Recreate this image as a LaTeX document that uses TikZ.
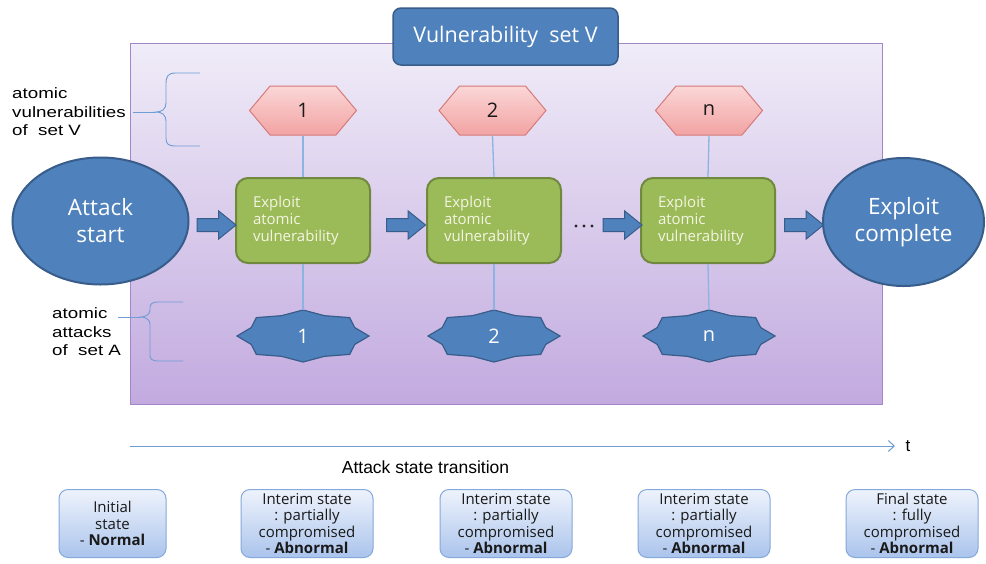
\documentclass[tikz,border=0pt]{standalone}
\usepackage{fontspec}
\setmainfont{Open Sans}
\newfontfamily\widesans[FakeStretch=1.25]{Liberation Sans}
\newfontfamily\plainsans{Liberation Sans}
\usetikzlibrary{shapes.symbols,shapes.arrows,shapes.geometric,arrows.meta}

\definecolor{blueA}{HTML}{4F81BD}
\definecolor{blueB}{HTML}{385D8A}
\definecolor{greenA}{HTML}{9BBB59}
\definecolor{greenB}{HTML}{71893F}
\definecolor{greenT}{HTML}{F4F4E2}
\definecolor{hexTop}{HTML}{FBD6D6}
\definecolor{hexBot}{HTML}{F2A3A3}
\definecolor{hexLine}{HTML}{D77A7A}
\definecolor{panelTop}{HTML}{F0ECF8}
\definecolor{panelBot}{HTML}{C2AADF}
\definecolor{panelLine}{HTML}{A386C8}
\definecolor{linkBlue}{HTML}{8DB3E2}
\definecolor{braceBlue}{HTML}{6F9DD4}
\definecolor{stateTop}{HTML}{EEF3FC}
\definecolor{stateBot}{HTML}{AAC4EC}
\definecolor{stateLine}{HTML}{86A8DA}

% 8-pointed seal around a centre point, with a named text node on top
\newcommand\sealnode[3]{%
  \filldraw[sealstyle] ([shift={(90:66 and 26)}]#2)
    \foreach \i in {1,...,15}{
      -- ([shift={({90+22.5*\i}:{66-10*mod(\i,2)} and {26-4*mod(\i,2)})}]#2)
    } -- cycle;
  \node[atk] (#1) at (#2) {#3};}

\begin{document}
\begin{tikzpicture}[x=1pt,y=-1pt,
  panel/.style={draw=panelLine, line width=1pt, top color=panelTop, bottom color=panelBot,
    minimum width=752, minimum height=361, inner sep=0},
  setbox/.style={draw=blueB, line width=1.5pt, fill=blueA, rounded corners=8pt, text=white,
    font=\fontsize{21.5}{24}\selectfont, minimum width=225, minimum height=57, inner sep=0},
  endpoint/.style={ellipse, draw=blueB, line width=2pt, fill=blueA, text=white, align=center,
    inner sep=0, font=\fontsize{22.5}{27}\selectfont},
  exploit/.style={draw=greenB, line width=2pt, fill=greenA, rounded corners=12pt, text=greenT,
    align=left, text width=100pt, inner xsep=17pt, inner ysep=0, minimum height=85,
    font=\fontsize{15}{17}\selectfont},
  vuln/.style={signal, signal to=west and east, signal pointer angle=100, draw=hexLine,
    line width=1pt, top color=hexTop, bottom color=hexBot, minimum width=107, minimum height=49,
    inner sep=0, text=black!90, font=\fontsize{20}{20}\selectfont},
  blockarrow/.style={single arrow, draw=blueB, fill=blueA, line width=1pt, minimum height=39,
    minimum width=27, single arrow head extend=7.5pt, single arrow tip angle=78,
    inner xsep=0, inner ysep=6pt},
  atk/.style={minimum width=132, minimum height=52, inner sep=0, text=white,
    font=\fontsize{20}{20}\selectfont},
  sealstyle/.style={draw=blueB, line width=1.2pt, fill=blueA, line join=miter},
  link/.style={draw=linkBlue, line width=1.3pt},
  bracket/.style={draw=braceBlue, line width=0.9pt},
  state/.style={draw=stateLine, line width=1pt, rounded corners=9pt, top color=stateTop,
    bottom color=stateBot, minimum height=68, inner sep=0, align=center,
    font=\fontsize{15}{16.5}\selectfont, text=black!90},
  sidelabel/.style={font=\widesans\fontsize{15}{18.5}\selectfont, align=left, inner sep=0,
    anchor=west},
  timeline/.style={draw=braceBlue, line width=1pt, -{Straight Barb[length=6pt,width=11pt]}}
]
\useasboundingbox (0,0) rectangle (986,563);
\fill[white] (0,0) rectangle (986,563);

% main panel and its title
\node[panel] (panel) at (506,223.5) {};
\node[setbox] (vset) at (505.5,36.5) {Vulnerability\ \ set V};

% start and end of the attack
\node[endpoint, minimum width=176, minimum height=127] (start) at (100.5,221) {Attack\\start};
\node[endpoint, minimum width=161, minimum height=128] (done) at (903.5,222) {Exploit\\complete};

% exploitation steps
\node[exploit] (e1) at (303,220.5) {Exploit\\atomic\\vulnerability};
\node[exploit] (e2) at (494,220.5) {Exploit\\atomic\\vulnerability};
\node[exploit] (en) at (708,220.5) {Exploit\\atomic\\vulnerability};

% atomic vulnerabilities
\node[vuln] (h1) at (303,110.5) {1};
\node[vuln] (h2) at (492.5,110.5) {2};
\node[vuln] (hn) at (709,110.5) {n};

% atomic attacks
\sealnode{s1}{303,336}{1}
\sealnode{s2}{494,336}{2}
\sealnode{sn}{709,336}{n}

% block arrows between the steps
\node[blockarrow] (ar0) at (212.5,225) {};
\node[blockarrow] (ar1) at (402,225) {};
\node[blockarrow] (ar2) at (618.5,225) {};
\node[blockarrow] (ar3) at (800,225) {};
\foreach \x in {576,584,592} \fill[black!85] (\x,226) circle (1.7);

% links from vulnerabilities and attacks to the steps
\draw[link] (h1.south) -- (e1.north);
\draw[link] (h2.south) -- (e2.north);
\draw[link] (hn.south) -- (en.north);
\draw[link] (e1.south) -- (s1.north);
\draw[link] (e2.south) -- (s2.north);
\draw[link] (en.south) -- (sn.north);

% side labels with their brackets
\node[sidelabel] (labV) at (12,112) {atomic\\vulnerabilities\\of\ \ set V};
\node[sidelabel] (labA) at (52,332) {atomic\\attacks\\of\ \ set A};
\coordinate (tipV) at (156,112);
\coordinate (tipA) at (141,317);
\draw[bracket] (200,73) -- (176,73) .. controls (168,73) and (166,76) .. (166,84) -- (166,103)
  .. controls (166,109) and (162,112) .. (tipV) .. controls (162,112) and (166,115) .. (166,121)
  -- (166,138) .. controls (166,144) and (168,146) .. (176,146) -- (200,146);
\draw[bracket] (133,112) -- (tipV);
\draw[bracket] (183,302) -- (158,302) .. controls (152,302) and (150,304) .. (150,308) -- (150,310)
  .. controls (150,314) and (146,317) .. (tipA) .. controls (146,317) and (150,320) .. (150,324)
  -- (150,355) .. controls (150,359) and (152,361) .. (158,361) -- (183,361);
\draw[bracket] (118,317) -- (tipA);

% time axis
\coordinate (t0) at (130,446);
\coordinate (t1) at (895,446);
\draw[timeline] (t0) -- (t1);
\node[font=\plainsans\fontsize{17}{17}\selectfont, inner sep=0] (tlabel) at (908,446) {t};
\node[font=\plainsans\fontsize{17.5}{17}\selectfont, inner sep=0] (axis) at (425.5,467) {Attack state transition};

% states along the attack
\node[state, minimum width=107] (b1) at (112.5,523.5) {Initial\\state\\- \textbf{Normal}};
\node[state, minimum width=132] (b2) at (307,523.5) {Interim state\\: partially\\compromised\\- \textbf{Abnormal}};
\node[state, minimum width=132] (b3) at (506,523.5) {Interim state\\: partially\\compromised\\- \textbf{Abnormal}};
\node[state, minimum width=132] (b4) at (704,523.5) {Interim state\\: partially\\compromised\\- \textbf{Abnormal}};
\node[state, minimum width=132] (b5) at (912,523.5) {Final state\\: fully\\compromised\\- \textbf{Abnormal}};
\end{tikzpicture}
\end{document}
